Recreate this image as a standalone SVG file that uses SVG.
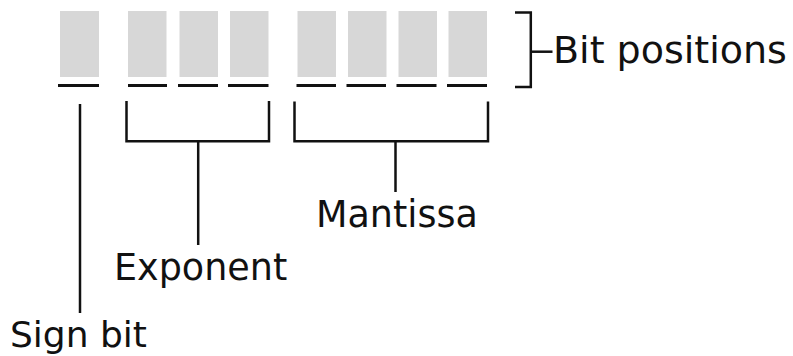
<svg xmlns="http://www.w3.org/2000/svg" width="793" height="356" viewBox="0 0 793 356">
  <style>
    .cell { fill: #d7d7d7; }
    .bar { stroke: #111; stroke-width: 3; fill: none; }
    .line { stroke: #111; stroke-width: 2.5; fill: none; stroke-linecap: butt; stroke-linejoin: miter; }
    .label { font-family: "DejaVu Sans", sans-serif; fill: #111; }
  </style>
  <rect width="793" height="356" fill="#fff"/>

  <!-- sign bit cell -->
  <g id="sign">
    <rect class="cell" x="60" y="11" width="39" height="66"/>
    <line class="bar" x1="58" y1="85.5" x2="99" y2="85.5"/>
  </g>

  <!-- exponent cells -->
  <g id="exponent">
    <rect class="cell" x="128" y="11" width="38.5" height="66"/>
    <rect class="cell" x="179.5" y="11" width="38.5" height="66"/>
    <rect class="cell" x="230" y="11" width="38.5" height="66"/>
    <line class="bar" x1="128" y1="85.5" x2="167" y2="85.5"/>
    <line class="bar" x1="178" y1="85.5" x2="218" y2="85.5"/>
    <line class="bar" x1="228" y1="85.5" x2="268.5" y2="85.5"/>
  </g>

  <!-- mantissa cells -->
  <g id="mantissa">
    <rect class="cell" x="297.5" y="11" width="38.5" height="66"/>
    <rect class="cell" x="348" y="11" width="38.5" height="66"/>
    <rect class="cell" x="398.5" y="11" width="38.5" height="66"/>
    <rect class="cell" x="448.5" y="11" width="38.5" height="66"/>
    <line class="bar" x1="296.5" y1="85.5" x2="336" y2="85.5"/>
    <line class="bar" x1="346.5" y1="85.5" x2="386" y2="85.5"/>
    <line class="bar" x1="396.5" y1="85.5" x2="436.5" y2="85.5"/>
    <line class="bar" x1="447" y1="85.5" x2="487" y2="85.5"/>
  </g>

  <!-- brackets and leader lines -->
  <g id="connectors">
    <polyline class="line" points="515,12.5 530.8,12.5 530.8,87 515,87"/>
    <line class="line" x1="530.8" y1="51.7" x2="552.5" y2="51.7"/>
    <line class="line" x1="80" y1="104" x2="80" y2="313"/>
    <polyline class="line" points="126.5,101 126.5,141.2 269,141.2 269,101"/>
    <line class="line" x1="198.2" y1="141.2" x2="198.2" y2="245"/>
    <polyline class="line" points="294.5,101.5 294.5,141.2 488,141.2 488,101.5"/>
    <line class="line" x1="395.5" y1="141.2" x2="395.5" y2="192"/>
  </g>

  <!-- labels -->
  <g id="labels">
    <text class="label" x="553" y="62.5" font-size="38">Bit positions</text>
    <text class="label" x="316" y="227" font-size="36.5">Mantissa</text>
    <text class="label" x="114" y="279.5" font-size="36.5">Exponent</text>
    <text class="label" x="10" y="347" font-size="36">Sign bit</text>
  </g>
</svg>
